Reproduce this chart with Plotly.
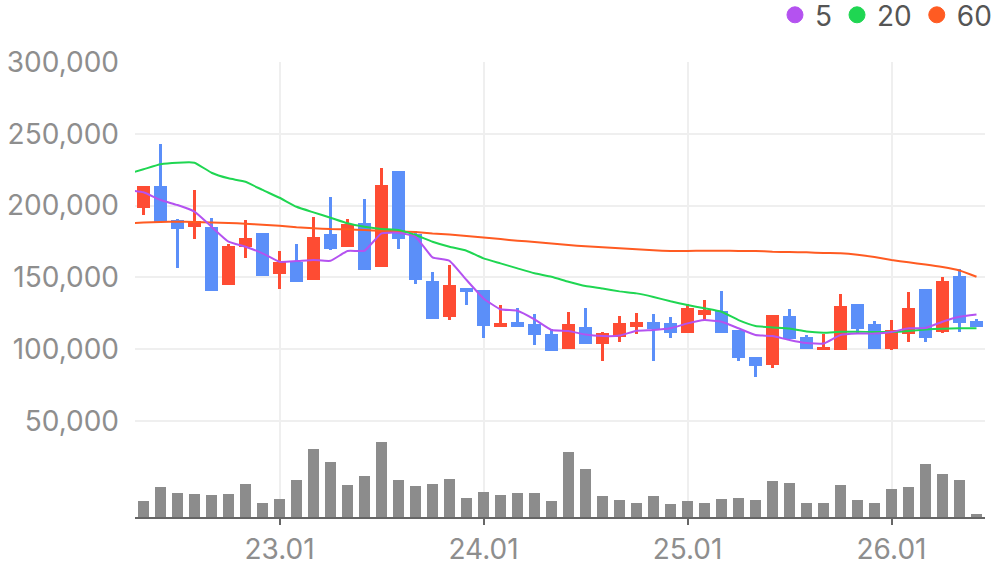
import plotly.graph_objects as go

# Month labels (22.04 only carries moving-average history)
months = ['22.04', '22.05', '22.06', '22.07', '22.08', '22.09', '22.10', '22.11', '22.12',
          '23.01', '23.02', '23.03', '23.04', '23.05', '23.06', '23.07', '23.08', '23.09',
          '23.10', '23.11', '23.12', '24.01', '24.02', '24.03', '24.04', '24.05', '24.06',
          '24.07', '24.08', '24.09', '24.10', '24.11', '24.12', '25.01', '25.02', '25.03',
          '25.04', '25.05', '25.06', '25.07', '25.08', '25.09', '25.10', '25.11', '25.12',
          '26.01', '26.02', '26.03', '26.04', '26.05', '26.06']
candle_months = months[1:]

open_ = [198500, 213600, 190000, 185300, 185300, 144900, 171400, 181000, 152600, 160500,
         148400, 180200, 171400, 187900, 157500, 224100, 180200, 147500, 122600, 142600,
         141200, 115700, 118900, 117500, 110600, 100300, 115500, 103800, 108700, 115700,
         118900, 118200, 111500, 124000, 126600, 113400, 94600, 89000, 123100, 108300,
         99700, 99700, 131500, 117500, 100100, 110800, 141900, 112200, 151000, 119600]
high = [213600, 242900, 190700, 210900, 191400, 173300, 190000, 181000, 168400, 173300,
        192100, 206000, 190500, 204600, 226200, 224100, 182100, 153800, 158600, 142600,
        141200, 130800, 128700, 124500, 113900, 125900, 128700, 112000, 123100, 125200,
        124500, 122400, 131500, 134300, 140500, 113400, 94600, 123800, 127900, 109900,
        110800, 138400, 131500, 119600, 120300, 139800, 141900, 150300, 155800, 121000]
low = [193400, 188800, 156800, 177000, 140700, 144900, 163700, 151200, 142100, 147000,
       148400, 169300, 171400, 155400, 157500, 169800, 145600, 121200, 120500, 131000,
       108000, 115700, 115700, 102900, 99000, 100300, 103800, 92000, 105200, 110800,
       92000, 108000, 111500, 120300, 111500, 92000, 80800, 87100, 107100, 100100,
       99700, 99700, 110400, 100100, 99400, 105200, 105200, 111500, 112200, 115700]
close = [213600, 188800, 183900, 189300, 140700, 171900, 177400, 151200, 160700, 147000,
         178100, 170000, 187200, 155400, 214300, 176900, 148400, 121200, 144700, 140000,
         116400, 118200, 115700, 110100, 99000, 117500, 103800, 111300, 118200, 118900,
         114100, 111500, 128700, 127300, 111500, 93700, 88500, 123800, 107100, 100100,
         101500, 130100, 114100, 100100, 113400, 128700, 108000, 147500, 118500, 115700]
volume = [157, 297, 237, 227, 217, 227, 327, 137, 177, 367, 677, 547, 317, 407, 747, 367,
          307, 327, 377, 187, 247, 217, 237, 237, 157, 647, 477, 207, 167, 137, 207, 127,
          157, 137, 177, 187, 167, 357, 337, 137, 137, 317, 167, 137, 277, 297, 527, 427,
          367, 27]

ma5 = [211000, 209300, 203900, 200400, 195800, 185300, 174900, 171400, 166800, 160900,
       161400, 162100, 161600, 168400, 168600, 180700, 181100, 178300, 164000, 161600,
       148200, 135400, 127800, 126800, 120800, 113400, 112700, 110200, 109200, 109500,
       112900, 113400, 114600, 118000, 120300, 119200, 114600, 109900, 109200, 106400,
       104300, 104000, 109900, 110900, 110900, 112000, 114600, 114800, 119200, 122600, 124200]
ma20 = [221900, 225300, 228800, 229900, 229900, 222900, 219000, 216600, 210900, 205500,
        199200, 195300, 191600, 187700, 185300, 183700, 183000, 179500, 174900, 171400,
        168600, 163300, 159800, 156300, 152900, 150500, 147000, 144000, 142300, 140300,
        138900, 136400, 133400, 130800, 128500, 126100, 120300, 116200, 115200, 114400,
        112300, 111500, 112200, 112200, 112000, 112000, 112700, 113700, 114300, 114600, 114600]
ma60 = [187700, 188200, 188600, 188800, 188600, 188200, 187900, 187400, 186700, 186000,
        184900, 184200, 183700, 183500, 183000, 182500, 182100, 181600, 180600, 179900,
        178800, 177800, 176700, 175600, 174700, 173600, 172600, 171700, 171000, 170300,
        169600, 168900, 168400, 168400, 168600, 168600, 168400, 168400, 167900, 167700,
        167500, 167000, 166800, 165800, 164200, 162100, 160500, 159000, 157200, 154800, 150500]

x_ticks = ['23.01', '24.01', '25.01', '26.01']
y_ticks = [50000, 100000, 150000, 200000, 250000, 300000]

UP = '#fe4c33'
DOWN = '#5b8ff9'
C5, C20, C60 = '#b452f0', '#1fd652', '#ff5b22'
FONT = 'Inter'

colors = [UP if c >= o else DOWN for o, c in zip(open_, close)]
body_base = [min(o, c) for o, c in zip(open_, close)]
body_h = [max(abs(c - o), 300) for o, c in zip(open_, close)]
wick_h = [h - l for h, l in zip(high, low)]

fig = go.Figure()

for vals, col in [(ma60, C60), (ma20, C20), (ma5, C5)]:
    fig.add_trace(go.Scatter(x=months, y=vals, mode='lines',
                             line=dict(color=col, width=2, shape='spline', smoothing=0.4),
                             showlegend=False, hoverinfo='skip', yaxis='y'))

fig.add_trace(go.Bar(x=candle_months, y=wick_h, base=low, width=0.16,
                     marker=dict(color=colors, line=dict(width=0)),
                     showlegend=False, yaxis='y'))
fig.add_trace(go.Bar(x=candle_months, y=body_h, base=body_base, width=0.75,
                     marker=dict(color=colors, line=dict(width=0)),
                     showlegend=False, yaxis='y'))
fig.add_trace(go.Bar(x=candle_months, y=volume, width=0.65,
                     marker=dict(color='#8c8c8c', line=dict(width=0)),
                     showlegend=False, yaxis='y2'))

for name, col in [('5', C5), ('20', C20), ('60', C60)]:
    fig.add_trace(go.Scatter(x=[None], y=[None], mode='markers', name=name,
                             marker=dict(color=col, size=16, line=dict(color=col, width=1)),
                             yaxis='y'))

fig.update_layout(
    width=996, height=567,
    margin=dict(l=135, r=11, t=62, b=50, autoexpand=False),
    paper_bgcolor='white', plot_bgcolor='white',
    barmode='overlay', bargap=0,
    font=dict(family=FONT, size=28, color='#8e8e8e'),
    showlegend=True,
    legend=dict(orientation='h', xref='paper', yref='paper',
                x=1.0141, xanchor='right', y=1.158, yanchor='top',
                font=dict(family=FONT, size=28, color='#555555'),
                bgcolor='rgba(0,0,0,0)', itemwidth=30),
    xaxis=dict(type='category', categoryorder='array', categoryarray=months,
               range=[0.5, 50.5], tickvals=x_ticks, ticktext=x_ticks,
               ticks='outside', ticklen=6, tickwidth=2, tickcolor='#666666',
               showline=True, linecolor='#666666', linewidth=2,
               showgrid=True, gridcolor='#efefef', gridwidth=2,
               anchor='y2', tickfont=dict(size=28, color='#8e8e8e'),
               ticklabelstandoff=0, fixedrange=True),
    yaxis=dict(domain=[0.1736, 1], range=[38200, 300000], tickvals=y_ticks,
               tickformat=',d', showgrid=True, gridcolor='#efefef', gridwidth=2,
               zeroline=False, showline=False, ticks='', anchor='x',
               tickfont=dict(size=28, color='#8e8e8e'), ticklabelstandoff=15),
    yaxis2=dict(domain=[0, 0.1736], range=[0, 790], showgrid=False,
                zeroline=False, showline=False, showticklabels=False, anchor='x'),
)

fig.write_html('out.html')
